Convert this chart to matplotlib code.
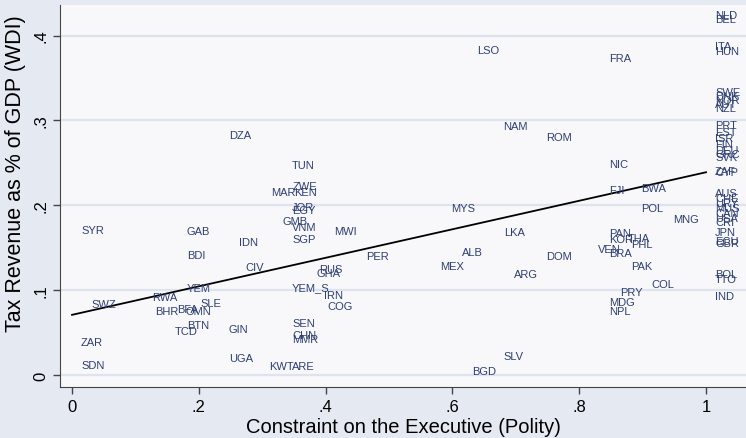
import matplotlib
matplotlib.use('Agg')
import matplotlib.pyplot as plt

# country codes, constraint on executive (x) and tax revenue share (y)
codes = ['SYR', 'ZAR', 'SDN', 'SWZ', 'GAB', 'BDI', 'IDN', 'CIV', 'YEM', 'RWA',
         'BHR', 'BFA', 'OMN', 'SLE', 'BTN', 'TCD', 'GIN', 'UGA', 'KWT', 'ARE',
         'DZA', 'TUN', 'ZWE', 'MAR', 'KEN', 'JOR', 'EGY', 'GMB', 'VNM', 'SGP',
         'MWI', 'PER', 'MEX', 'RUS', 'GHA', 'YEM_S', 'IRN', 'COG', 'SEN', 'CHN',
         'MMR', 'LSO', 'FRA', 'NAM', 'ROM', 'NIC', 'FJI', 'BWA', 'MYS', 'POL',
         'MNG', 'LKA', 'PAN', 'KOR', 'THA', 'PHL', 'VEN', 'BRA', 'PAK', 'COL',
         'PRY', 'MDG', 'NPL', 'ALB', 'DOM', 'ARG', 'SLV', 'BGD',
         'NLD', 'BEL', 'ITA', 'HUN', 'SWE', 'DNK', 'NOR', 'AUT', 'NZL', 'PRT',
         'EST', 'ISR', 'FIN', 'DEU', 'GRC', 'SVK', 'ZAF', 'CYP', 'AUS', 'CHE',
         'URY', 'MUS', 'CAN', 'USA', 'CRI', 'JPN', 'ECU', 'GBR', 'BOL', 'TTO',
         'IND']
xconst = [0.0, 0.0, 0.0, 0.017, 0.167, 0.167, 0.249, 0.259, 0.167, 0.112,
          0.117, 0.152, 0.165, 0.188, 0.167, 0.148, 0.233, 0.233, 0.297, 0.333,
          0.233, 0.333, 0.333, 0.300, 0.336, 0.333, 0.333, 0.317, 0.333, 0.333,
          0.399, 0.450, 0.566, 0.375, 0.371, 0.333, 0.383, 0.389, 0.333, 0.333,
          0.333, 0.625, 0.833, 0.666, 0.733, 0.833, 0.833, 0.883, 0.584, 0.883,
          0.934, 0.667, 0.833, 0.833, 0.862, 0.868, 0.816, 0.833, 0.867, 0.900,
          0.850, 0.833, 0.833, 0.601, 0.733, 0.683, 0.667, 0.617,
          1, 1, 1, 1, 1, 1, 1, 1, 1, 1,
          1, 1, 1, 1, 1, 1, 1, 1, 1, 1,
          1, 1, 1, 1, 1, 1, 1, 1, 1, 1,
          1]
taxrev = [0.172, 0.040, 0.013, 0.085, 0.171, 0.143, 0.158, 0.129, 0.104, 0.093,
          0.076, 0.079, 0.077, 0.086, 0.060, 0.053, 0.055, 0.021, 0.012, 0.012,
          0.284, 0.248, 0.224, 0.217, 0.217, 0.199, 0.195, 0.183, 0.176, 0.161,
          0.171, 0.141, 0.130, 0.126, 0.121, 0.105, 0.095, 0.083, 0.063, 0.048,
          0.044, 0.384, 0.375, 0.294, 0.281, 0.250, 0.219, 0.222, 0.198, 0.198,
          0.185, 0.170, 0.168, 0.161, 0.163, 0.156, 0.150, 0.145, 0.130, 0.108,
          0.099, 0.087, 0.077, 0.146, 0.141, 0.120, 0.024, 0.006,
          0.425, 0.421, 0.389, 0.383, 0.335, 0.330, 0.325, 0.320, 0.316, 0.296,
          0.288, 0.280, 0.273, 0.266, 0.261, 0.258, 0.241, 0.240, 0.216, 0.210,
          0.204, 0.198, 0.192, 0.186, 0.181, 0.170, 0.159, 0.157, 0.120, 0.114,
          0.094]

# fitted line
fit_x = [0, 1]
fit_y = [0.071, 0.239]

xticks = [0, 0.2, 0.4, 0.6, 0.8, 1]
xticklabels = ['0', '.2', '.4', '.6', '.8', '1']
yticks = [0, 0.1, 0.2, 0.3, 0.4]
yticklabels = ['0', '.1', '.2', '.3', '.4']

plt.rcParams['font.family'] = ['Liberation Sans', 'DejaVu Sans']

fig = plt.figure(figsize=(7.46, 4.39), dpi=100, facecolor='#e5e9f1')
ax = fig.add_axes([0.0804, 0.1162, 0.9196, 0.8701])
ax.set_facecolor('#f8f8fa')

for y in yticks:
  ax.axhline(y, color='#dde3ef', lw=1.6, zorder=0)

for c, x, y in zip(codes, xconst, taxrev):
  ax.annotate(c, (x, y), xytext=(9, -3.9), textcoords='offset pixels',
              ha='left', va='baseline', fontsize=8, color='#2e3f72',
              clip_on=True, annotation_clip=False)

ax.plot(fit_x, fit_y, color='black', lw=1.3)

ax.set_xlim(-0.019, 1.063)
ax.set_ylim(-0.014, 0.436)
ax.set_xticks(xticks)
ax.set_xticklabels(xticklabels, fontsize=12)
ax.set_yticks(yticks)
ax.set_yticklabels(yticklabels, fontsize=12, rotation=90, va='center')
ax.tick_params(length=5, color='#444444', width=1)
ax.set_xlabel('Constraint on the Executive (Polity)', fontsize=14.5, labelpad=2)
ax.set_ylabel('Tax Revenue as % of GDP (WDI)', fontsize=15.5)
ax.yaxis.set_label_coords(-0.049, 0.56)

for s in ['top', 'right']:
  ax.spines[s].set_visible(False)
for s in ['left', 'bottom']:
  ax.spines[s].set_color('#444444')

plt.savefig('out.png', dpi=100, facecolor=fig.get_facecolor())
plt.close()
